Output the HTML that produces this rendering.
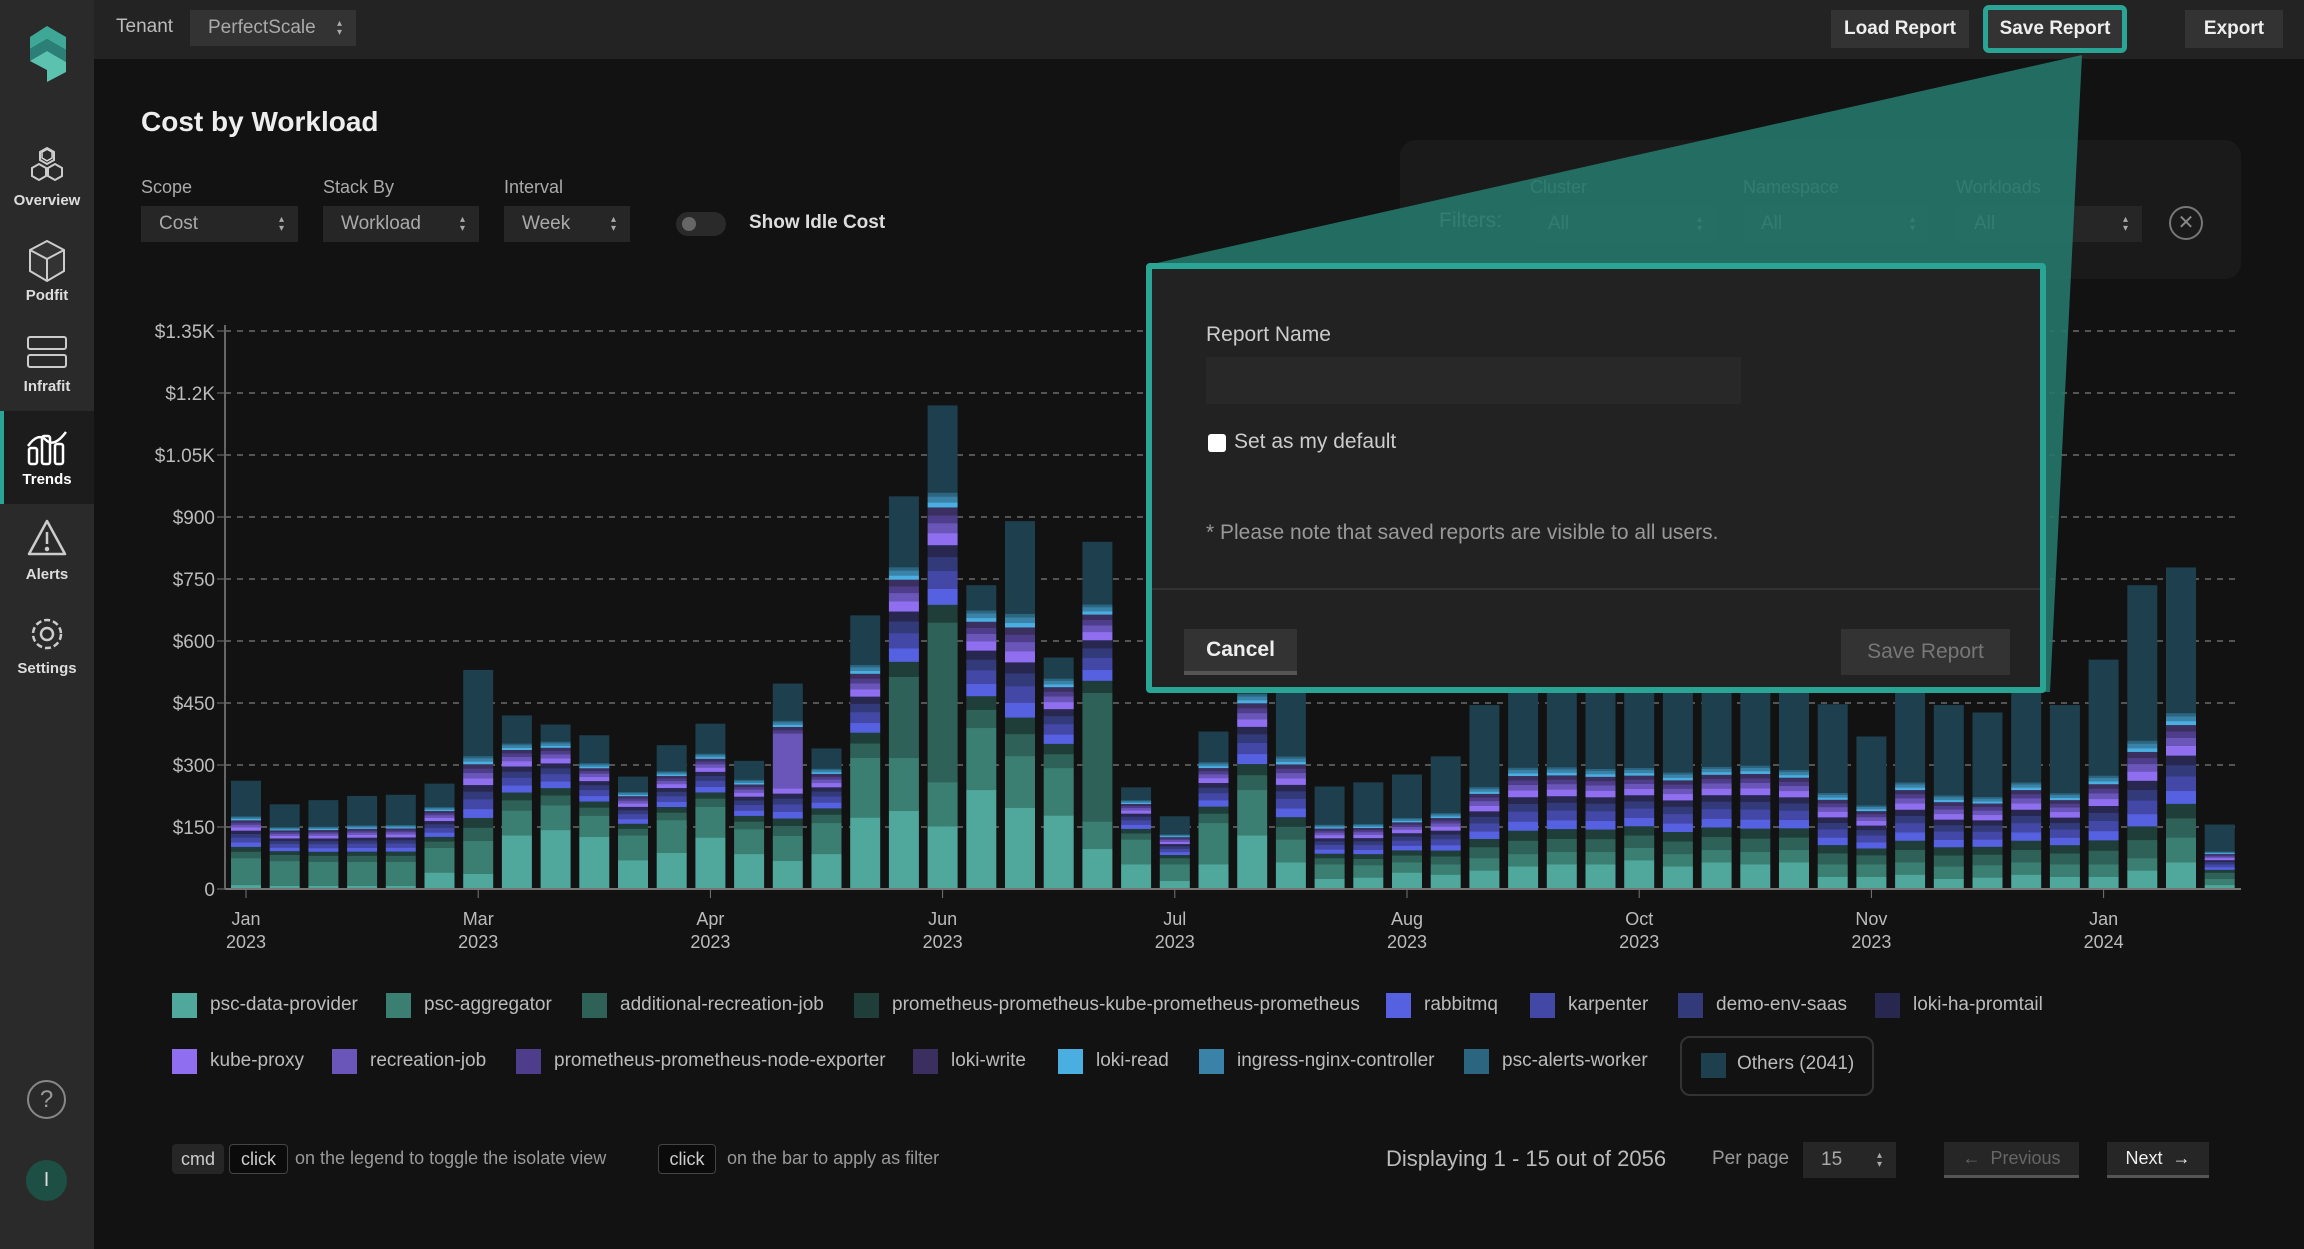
<!DOCTYPE html>
<html><head><meta charset="utf-8"><style>
*{box-sizing:border-box;margin:0;padding:0}
body{width:2304px;height:1249px;background:#121212;font-family:"Liberation Sans",sans-serif;color:#ccc;position:relative;overflow:hidden}
.abs{position:absolute}
.side{left:0;top:0;width:94px;height:1249px;background:#2a2a2a}
.nav{width:94px;text-align:center;font-size:15px;color:#ddd;font-weight:bold}
.top{left:94px;top:0;width:2210px;height:59px;background:#232323}
.btn{background:#333;color:#eee;font-weight:bold;font-size:19px;display:flex;align-items:center;justify-content:center}
.sel{background:#262626;color:#aaa;font-size:19px;padding-left:18px;display:flex;align-items:center}
.sel:after{content:"▴\A▾";white-space:pre;font-size:10px;line-height:9px;position:absolute;right:14px;top:50%;transform:translateY(-50%);color:#aaa}
.lbl{font-size:18px;color:#aaa}
.leg{font-size:19px;color:#bbb;white-space:nowrap}
.sw{width:25px;height:25px;position:absolute}
.key{border:1px solid #444;border-radius:4px;background:#0b0b0b;font-size:18px;color:#ccc;display:flex;align-items:center;justify-content:center;height:30px}
</style></head><body>
<div class="abs side"></div>
<div class="abs" style="left:0;top:411px;width:94px;height:93px;background:#1c1c1c;border-left:4px solid #2aa595"></div>
<svg class="abs" style="left:26px;top:24px" width="42" height="60" viewBox="0 0 42 60"><polygon points="21,2 40,13 40,26 21,15 4,25 4,13" fill="#3fa796"/><polygon points="4,25 21,15 40,26 40,38 21,27 4,37" fill="#2b7f76"/><polygon points="4,37 21,27 40,38 40,48 21,58 21,46" fill="#5cc2b0"/></svg>
<div class="abs nav" style="top:146px">⬡<br><span style="font-size:0"></span></div>
<svg class="abs" style="left:30px;top:146px" width="34" height="38" viewBox="0 0 34 38" fill="none" stroke="#ccc" stroke-width="2"><polygon points="17,2 24,6 24,14 17,18 10,14 10,6"/><polygon points="9,18 16,22 16,30 9,34 2,30 2,22"/><polygon points="25,18 32,22 32,30 25,34 18,30 18,22"/></svg>
<div class="abs nav" style="top:192px">Overview</div>
<svg class="abs" style="left:27px;top:239px" width="40" height="44" viewBox="0 0 40 44" fill="#333" stroke="#ccc" stroke-width="2"><polygon points="20,2 37,11 37,32 20,42 3,32 3,11"/><polyline points="3,11 20,20 37,11" fill="none"/><line x1="20" y1="20" x2="20" y2="42"/></svg>
<div class="abs nav" style="top:287px">Podfit</div>
<svg class="abs" style="left:26px;top:335px" width="42" height="34" fill="none" stroke="#ccc" stroke-width="2"><rect x="2" y="2" width="38" height="12" rx="2"/><rect x="2" y="20" width="38" height="12" rx="2"/></svg>
<div class="abs nav" style="top:378px">Infrafit</div>
<svg class="abs" style="left:26px;top:426px" width="42" height="40" fill="none" stroke="#fff" stroke-width="2.5"><rect x="3" y="22" width="8" height="16" rx="2"/><rect x="16" y="10" width="8" height="28" rx="2"/><rect x="29" y="18" width="8" height="20" rx="2"/><path d="M2 20 Q12 6 20 14 T40 6"/></svg>
<div class="abs nav" style="top:471px;color:#fff">Trends</div>
<svg class="abs" style="left:26px;top:518px" width="42" height="40" fill="none" stroke="#ccc" stroke-width="2.5"><polygon points="21,3 39,36 3,36" stroke-linejoin="round"/><line x1="21" y1="14" x2="21" y2="26"/><circle cx="21" cy="31" r="1" fill="#ccc"/></svg>
<div class="abs nav" style="top:566px">Alerts</div>
<svg class="abs" style="left:27px;top:614px" width="40" height="40" fill="none" stroke="#ccc" stroke-width="2.5"><circle cx="20" cy="20" r="6"/><circle cx="20" cy="20" r="14" stroke-dasharray="6 3"/></svg>
<div class="abs nav" style="top:660px">Settings</div>
<div class="abs" style="left:27px;top:1080px;width:39px;height:39px;border:2px solid #888;border-radius:50%;color:#999;font-size:24px;text-align:center;line-height:35px">?</div>
<div class="abs" style="left:26px;top:1160px;width:41px;height:41px;border-radius:50%;background:#1d4f44;color:#ddd;font-size:20px;text-align:center;line-height:41px">I</div>

<div class="abs top"></div>
<div class="abs" style="left:116px;top:16px;font-size:19px;color:#bbb">Tenant</div>
<div class="abs sel" style="left:190px;top:10px;width:166px;height:36px;background:#333;color:#aaa;position:absolute">PerfectScale</div>
<div class="abs btn" style="left:1831px;top:10px;width:138px;height:38px">Load Report</div>
<div class="abs btn" style="left:1983px;top:5px;width:144px;height:48px;border:5px solid #2aa595;border-radius:6px">Save Report</div>
<div class="abs btn" style="left:2185px;top:10px;width:98px;height:38px">Export</div>

<div class="abs" style="left:141px;top:106px;font-size:28px;font-weight:bold;color:#eee">Cost by Workload</div>
<div class="abs lbl" style="left:141px;top:177px">Scope</div>
<div class="abs lbl" style="left:323px;top:177px">Stack By</div>
<div class="abs lbl" style="left:504px;top:177px">Interval</div>
<div class="abs sel" style="left:141px;top:206px;width:157px;height:36px">Cost</div>
<div class="abs sel" style="left:323px;top:206px;width:156px;height:36px">Workload</div>
<div class="abs sel" style="left:504px;top:206px;width:126px;height:36px">Week</div>
<div class="abs" style="left:676px;top:212px;width:50px;height:24px;border-radius:12px;background:#2a2a2a"><div style="margin:5px 0 0 6px;width:14px;height:14px;border-radius:50%;background:#666"></div></div>
<div class="abs" style="left:749px;top:212px;font-size:19px;font-weight:bold;color:#ddd">Show Idle Cost</div>

<div class="abs" style="left:1400px;top:140px;width:841px;height:139px;background:#1a1a1a;border-radius:16px"></div>
<div class="abs lbl" style="left:1530px;top:177px">Cluster</div>
<div class="abs lbl" style="left:1743px;top:177px">Namespace</div>
<div class="abs lbl" style="left:1956px;top:177px">Workloads</div>
<div class="abs" style="left:1439px;top:209px;font-size:21px;color:#bbb">Filters:</div>
<div class="abs sel" style="left:1530px;top:206px;width:186px;height:36px">All</div>
<div class="abs sel" style="left:1743px;top:206px;width:186px;height:36px">All</div>
<div class="abs sel" style="left:1956px;top:206px;width:186px;height:36px">All</div>
<div class="abs" style="left:2169px;top:206px;width:34px;height:34px;border:2px solid #777;border-radius:50%;color:#888;text-align:center;line-height:30px;font-size:20px">✕</div>

<svg class="abs" id="chart" style="left:0;top:0" width="2304" height="960"></svg>

<svg class="abs" style="left:0;top:0" width="2304" height="700"><polygon points="1148,265 2082,55 2050,692 1148,692" fill="#26776c" fill-opacity="0.9"/></svg>
<div class="abs" style="left:1146px;top:263px;width:900px;height:430px;background:#222;border:6px solid #2aa595;border-radius:4px"></div>
<div class="abs" style="left:1206px;top:323px;font-size:21px;color:#ccc">Report Name</div>
<div class="abs" style="left:1206px;top:357px;width:535px;height:47px;background:#282828"></div>
<div class="abs" style="left:1208px;top:434px;width:18px;height:18px;background:#fff;border-radius:3px"></div>
<div class="abs" style="left:1234px;top:430px;font-size:21px;color:#ccc">Set as my default</div>
<div class="abs" style="left:1206px;top:521px;font-size:21px;color:#999">* Please note that saved reports are visible to all users.</div>
<div class="abs" style="left:1152px;top:588px;width:888px;height:2px;background:#333"></div>
<div class="abs btn" style="left:1184px;top:629px;width:113px;height:46px;border-bottom:4px solid #555;font-size:21px">Cancel</div>
<div class="abs btn" style="left:1841px;top:629px;width:169px;height:46px;color:#777;font-size:21px;font-weight:normal">Save Report</div>

<div id="legend"></div>
<div class="abs" style="left:1680px;top:1036px;width:194px;height:60px;border:2px solid #333;border-radius:10px"></div>

<div class="abs key" style="left:172px;top:1144px;width:52px;background:#262626;border:none">cmd</div>
<div class="abs key" style="left:229px;top:1144px;width:59px">click</div>
<div class="abs" style="left:295px;top:1148px;font-size:18px;color:#999">on the legend to toggle the isolate view</div>
<div class="abs key" style="left:658px;top:1144px;width:58px">click</div>
<div class="abs" style="left:727px;top:1148px;font-size:18px;color:#999">on the bar to apply as filter</div>
<div class="abs" style="left:1386px;top:1146px;font-size:22px;color:#bbb">Displaying 1 - 15 out of 2056</div>
<div class="abs" style="left:1712px;top:1148px;font-size:19px;color:#999">Per page</div>
<div class="abs sel" style="left:1803px;top:1142px;width:93px;height:36px">15</div>
<div class="abs btn" style="left:1944px;top:1142px;width:135px;height:36px;border-bottom:3px solid #555;color:#666;font-weight:normal;font-size:18px;background:#262626">← &nbsp;Previous</div>
<div class="abs btn" style="left:2107px;top:1142px;width:102px;height:36px;border-bottom:3px solid #555;color:#eee;font-weight:normal;font-size:18px;background:#262626">Next &nbsp;→</div>

<script>
var C=["#4fa89b","#3b7f73","#2e6157","#1f3d39","#5561e0","#4347a6","#333a7a","#272750","#8f6ff0","#6a55b8","#4d3d8a","#3a2f5e","#4aaee0","#3a82a8","#2b6580","#1d3f4e"];
var names=["psc-data-provider","psc-aggregator","additional-recreation-job","prometheus-prometheus-kube-prometheus-prometheus","rabbitmq","karpenter","demo-env-saas","loki-ha-promtail","kube-proxy","recreation-job","prometheus-prometheus-node-exporter","loki-write","loki-read","ingress-nginx-controller","psc-alerts-worker"];
var T=[262,205,215,225,228,255,530,420,398,372,272,348,400,310,497,340,662,950,1170,735,890,560,840,246,176,381,600,520,248,258,277,321,445,540,530,520,500,510,520,540,500,447,369,500,445,427,500,445,555,735,778,156];
var G1=[10,8,8,8,8,40,37,130,143,143,70,100,150,85,85,85,197,222,185,240,197,178,125,60,20,60,130,65,25,28,40,35,45,55,60,60,70,55,65,60,65,30,30,35,25,28,35,30,30,45,65,10];
var G2=[65,60,58,58,58,60,80,60,60,58,60,90,90,60,75,75,165,150,130,150,125,115,85,60,40,100,110,55,35,30,25,25,30,30,30,30,30,30,30,30,30,30,30,30,30,30,30,30,30,30,60,15];
var G3=[0,0,0,0,0,0,0,0,0,0,0,0,0,0,0,0,0,230,470,0,0,0,400,0,0,0,0,0,0,0,0,0,0,0,0,0,0,0,0,0,0,0,0,0,0,0,0,0,0,0,0,0];
var s='',y0=889,k=62/150;
[1350,1200,1050,900,750,600,450,300,150].forEach(function(v,i){var y=y0-v*k;s+='<line x1="225" x2="2241" y1="'+y+'" y2="'+y+'" stroke="#555" stroke-dasharray="6,6" stroke-width="2"/>';});
var lab=["$1.35K","$1.2K","$1.05K","$900","$750","$600","$450","$300","$150","0"];
lab.forEach(function(t,i){var y=y0-(1350-i*150)*k;s+='<text x="215" y="'+(y+7)+'" text-anchor="end" font-size="19" fill="#bbb" font-family="Liberation Sans">'+t+'</text><line x1="217" x2="225" y1="'+y+'" y2="'+y+'" stroke="#777"/>';});
s+='<line x1="225" x2="225" y1="325" y2="889" stroke="#666" stroke-width="2"/>';
for(var i=0;i<52;i++){var cx=246+38.7*i,x=cx-15,w=30,t=T[i];
 var seg=[G1[i],G2[i],G3[i]||Math.max(15,t*0.06),t*0.045,t*0.04,t*0.045,t*0.035,t*0.03,t*0.03,(i==14?165:t*0.025),t*0.02,t*0.02,t*0.012,t*0.015,t*0.01];
 var sum=seg.reduce(function(a,b){return a+b},0);
 if(sum>t*0.92){var f=t*0.82/sum;seg=seg.map(function(v){return v*f});sum=t*0.82;}
 seg.push(t-sum);
 var y=y0;
 for(var j=0;j<16;j++){var h=seg[j]*k;y-=h;s+='<rect x="'+x+'" y="'+y+'" width="'+w+'" height="'+(h+0.3)+'" fill="'+C[j]+'"/>';}
}
s+='<line x1="225" x2="2241" y1="889" y2="889" stroke="#777" stroke-width="2"/>';
var ticks=[["Jan","2023",0],["Mar","2023",6],["Apr","2023",12],["Jun","2023",18],["Jul","2023",24],["Aug","2023",30],["Oct","2023",36],["Nov","2023",42],["Jan","2024",48]];
ticks.forEach(function(t){var x=246+38.7*t[2];s+='<line x1="'+x+'" x2="'+x+'" y1="889" y2="898" stroke="#777"/><text x="'+x+'" y="925" text-anchor="middle" font-size="18" fill="#bbb" font-family="Liberation Sans">'+t[0]+'</text><text x="'+x+'" y="948" text-anchor="middle" font-size="18" fill="#bbb" font-family="Liberation Sans">'+t[1]+'</text>';});
document.getElementById('chart').innerHTML=s;
var pos=[[172,993],[386,993],[582,993],[854,993],[1386,993],[1530,993],[1678,993],[1875,993],[172,1049],[332,1049],[516,1049],[913,1049],[1058,1049],[1199,1049],[1464,1049]];
var L='';
pos.forEach(function(p,i){L+='<div class="sw" style="left:'+p[0]+'px;top:'+p[1]+'px;background:'+C[i]+'"></div><div class="abs leg" style="left:'+(p[0]+38)+'px;top:'+(p[1]+1)+'px">'+names[i]+'</div>';});
L+='<div class="sw" style="left:1701px;top:1053px;background:#1d3f4e"></div><div class="abs leg" style="left:1737px;top:1053px">Others (2041)</div>';
document.getElementById('legend').innerHTML=L;
</script>
</body></html>
